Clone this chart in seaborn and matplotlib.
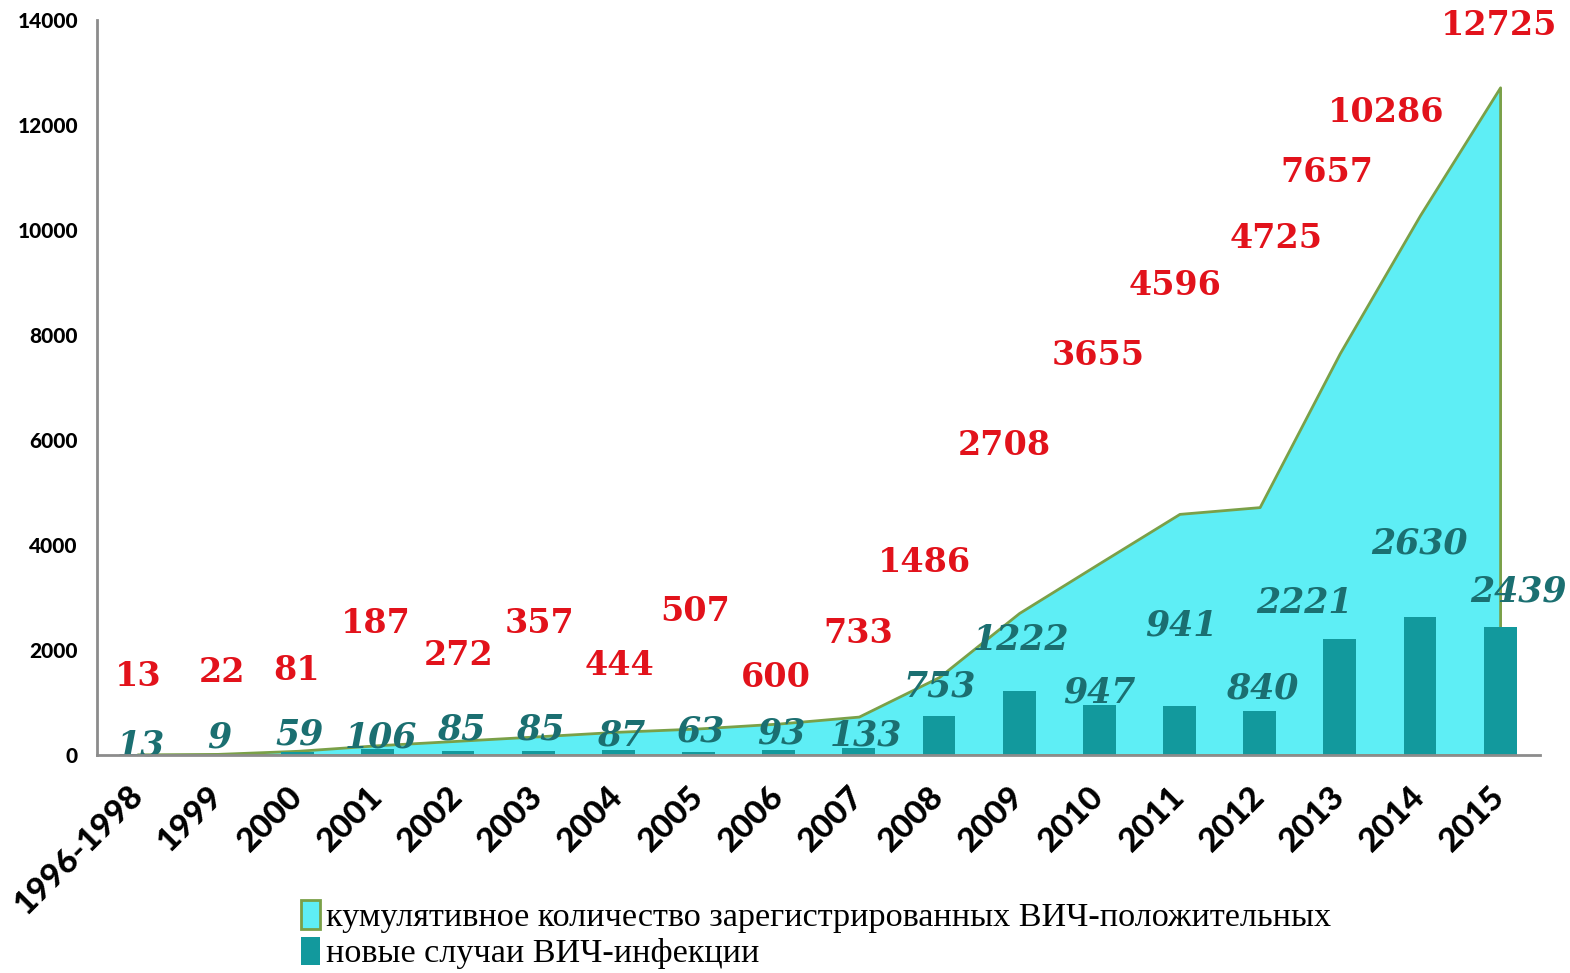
import numpy as np
import pandas as pd
import matplotlib.pyplot as plt
import seaborn as sns

# data
years = ['1996-1998', '1999', '2000', '2001', '2002', '2003', '2004', '2005', '2006',
         '2007', '2008', '2009', '2010', '2011', '2012', '2013', '2014', '2015']
cumulative = [13, 22, 81, 187, 272, 357, 444, 507, 600, 733, 1486, 2708, 3655, 4596,
              4725, 7657, 10286, 12725]
new_cases = [13, 9, 59, 106, 85, 85, 87, 63, 93, 133, 753, 1222, 947, 941, 840,
             2221, 2630, 2439]
legend_labels = ['кумулятивное количество зарегистрированных ВИЧ-положительных',
                 'новые случаи ВИЧ-инфекции']

# where the value labels sit (x in category units, y in data units)
cum_lab_x = [0.01, 1.06, 1.98, 2.97, 4.01, 5.02, 6.01, 6.96, 7.97, 8.99, 9.82, 10.81,
             11.98, 12.94, 14.2, 14.84, 15.58, 16.99]
cum_lab_y = [1490, 1580, 1620, 2510, 1890, 2500, 1710, 2740, 1470, 2320, 3660, 5890,
             7620, 8950, 9850, 11100, 12250, 13900]
new_lab_x = [0.04, 1.02, 2.02, 3.04, 4.04, 5.02, 6.03, 7.02, 8.03, 9.09, 10.01, 11.02,
             12.0, 13.02, 14.03, 14.56, 15.99, 17.23]
new_lab_y = [190, 340, 400, 340, 495, 495, 380, 455, 420, 380, 1310, 2190, 1200, 2460,
             1260, 2900, 4040, 3120]

area_color = '#5eeef5'
edge_color = '#7aa048'
bar_color = '#12999d'
red = '#e2121b'
teal_txt = '#1b6f71'

df = pd.DataFrame({'year': years, 'new': new_cases})

sns.set_style('white')
fig = plt.figure(figsize=(15.7, 9.73), dpi=100)
ax = fig.add_axes([0.062, 0.224, 0.919, 0.755])

x = np.arange(len(years))
ax.fill_between(x, cumulative, 0, facecolor=area_color, edgecolor=edge_color,
                linewidth=2, zorder=1)
sns.barplot(data=df, x='year', y='new', color=bar_color, width=0.41, saturation=1,
            linewidth=0, ax=ax, zorder=2)

for xi, yi, v in zip(cum_lab_x, cum_lab_y, cumulative):
    ax.text(xi, yi, str(v), ha='center', va='center', color=red, fontsize=24,
            fontweight='bold', family='DejaVu Serif', zorder=4)
for xi, yi, v in zip(new_lab_x, new_lab_y, new_cases):
    ax.text(xi, yi, str(v), ha='center', va='center', color=teal_txt, fontsize=25,
            fontweight='bold', fontstyle='italic', family='DejaVu Serif', zorder=4)

ax.set_xlim(-0.5, len(years) - 0.5)
ax.set_ylim(0, 14000)
ax.set_yticks(range(0, 14001, 2000))
ax.set_xlabel('')
ax.set_ylabel('')

ax.set_xticks(x)
ax.set_xticklabels(years, rotation=45, ha='right', va='center', rotation_mode='anchor',
                   fontsize=24, fontweight='black', family='Lato', color='black')
ax.set_xticks(np.arange(-0.5, len(years)), minor=True)
ax.tick_params(axis='x', which='major', length=0, pad=26)
ax.tick_params(axis='x', which='minor', length=10, width=2, color='#8c8c8c')
ax.tick_params(axis='y', length=8, width=2, color='#8c8c8c', pad=6)
for lab in ax.get_yticklabels():
    lab.set_fontsize(15)
    lab.set_fontweight('black')
    lab.set_family('Lato')
    lab.set_color('black')

for side in ['top', 'right']:
    ax.spines[side].set_visible(False)
for side in ['left', 'bottom']:
    ax.spines[side].set_color('#8c8c8c')
    ax.spines[side].set_linewidth(2)
    ax.spines[side].set_zorder(5)

handles = [plt.Rectangle((0, 0), 1, 1, facecolor=area_color, edgecolor=edge_color, linewidth=2),
           plt.Rectangle((0, 0), 1, 1, facecolor=bar_color, edgecolor='none')]
leg = fig.legend(handles, legend_labels, loc='lower left', bbox_to_anchor=(0.172, -0.028),
                 frameon=False, handlelength=0.55, handleheight=0.9, handletextpad=0.2,
                 labelspacing=0.1, prop={'family': 'Liberation Serif', 'size': 24.6})
for t in leg.get_texts():
    t.set_color('black')

fig.savefig('out.png', dpi=100)
